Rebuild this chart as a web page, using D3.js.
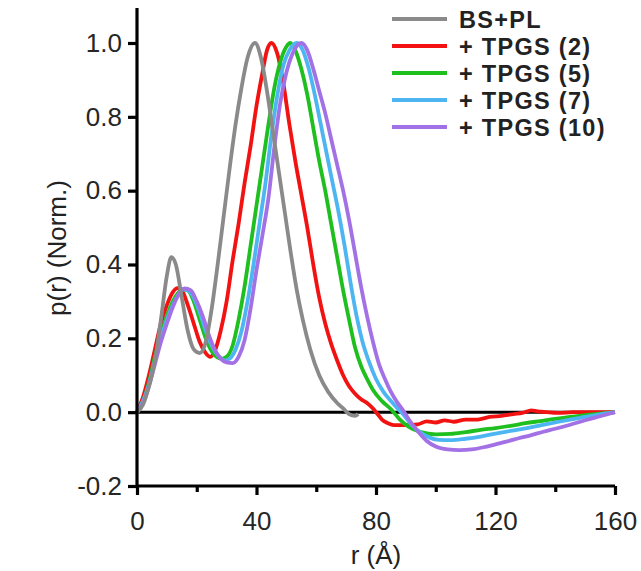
<!DOCTYPE html>
<html>
<head>
<meta charset="utf-8">
<script src="https://cdn.jsdelivr.net/npm/d3@7"></script>
<style>
  body { margin: 0; background: #fff; }
  svg text { font-family: "Liberation Sans", Arial, sans-serif; fill: #222; }
</style>
</head>
<body>
<div id="chart"></div>
<script>
// p(r) curves, [r (Å), p(r) normalised]
var bspl = [[0,0],[2,0.02],[4,0.07],[6,0.14],[8,0.25],[10,0.37],[11.5,0.42],[13,0.40],[15,0.31],[17,0.22],[19,0.17],[21,0.16],[23,0.19],[25,0.28],[27,0.40],[29,0.53],[31,0.66],[33,0.78],[35,0.88],[37,0.96],[39.5,1.0],[41.5,0.96],[43.5,0.87],[45.5,0.76],[47.5,0.65],[49.5,0.54],[51.5,0.43],[53.5,0.33],[55.5,0.25],[58,0.17],[61,0.10],[64,0.055],[67,0.025],[69,0.01],[71,-0.005],[73,-0.01],[74,-0.005]];

var tpgs2 = [[0,0],[2,0.04],[4,0.10],[6,0.17],[8,0.24],[10,0.29],[12,0.325],[13.5,0.336],[15,0.33],[17,0.29],[19,0.24],[21,0.19],[23,0.16],[24.5,0.15],[26,0.165],[28,0.22],[30,0.30],[32,0.41],[34,0.51],[36,0.62],[38,0.72],[40,0.83],[42,0.92],[43.5,0.98],[45,1.0],[47,0.97],[49,0.89],[51,0.78],[53,0.68],[55,0.59],[57,0.50],[59,0.40],[61,0.31],[63,0.24],[65,0.185],[67,0.14],[69,0.10],[71,0.07],[73,0.05],[75,0.035],[77,0.025],[79,0.01],[80.5,-0.005],[82,-0.02],[84,-0.03],[86,-0.035],[90,-0.035],[94,-0.033],[97,-0.025],[100,-0.028],[103,-0.022],[106,-0.026],[110,-0.02],[114,-0.02],[118,-0.013],[122,-0.01],[126,-0.005],[129,-0.002],[132,0.005],[134,0.002],[137,0.0],[141,-0.002],[146,0.0],[150,0.0],[155,0.0],[160,0.0]];

var tpgs5 = [[0,0],[2,0.03],[4,0.08],[6,0.15],[8,0.21],[10,0.26],[12,0.30],[14,0.325],[15.5,0.333],[17,0.33],[19,0.30],[21,0.25],[23,0.20],[25,0.165],[27,0.148],[28.5,0.145],[30,0.15],[32,0.18],[34,0.25],[36,0.34],[38,0.45],[40,0.56],[42,0.67],[44,0.78],[46,0.88],[48,0.95],[50,0.99],[51.3,1.0],[53,0.98],[55,0.93],[57,0.86],[59,0.77],[61,0.68],[63,0.60],[65,0.51],[67,0.42],[69,0.33],[71,0.25],[73,0.175],[75,0.125],[77,0.09],[79,0.06],[82,0.03],[85,0.008],[88,-0.02],[91,-0.04],[95,-0.054],[100,-0.06],[105,-0.059],[110,-0.054],[115,-0.048],[120,-0.043],[125,-0.037],[130,-0.03],[135,-0.024],[140,-0.018],[145,-0.013],[150,-0.008],[155,-0.004],[160,0]];

var tpgs7 = [[0,0],[2,0.03],[4,0.075],[6,0.14],[8,0.20],[10,0.25],[12,0.29],[14,0.32],[15.5,0.333],[17,0.33],[19,0.31],[21,0.27],[23,0.22],[25,0.18],[27,0.155],[29.5,0.14],[31,0.145],[33,0.17],[35,0.22],[37,0.30],[39,0.40],[41,0.51],[43,0.62],[45,0.75],[47,0.86],[49,0.94],[51,0.98],[53.5,1.0],[55.5,0.98],[57.5,0.93],[59.5,0.86],[61.5,0.78],[63.5,0.70],[65.5,0.62],[67.5,0.54],[69.5,0.45],[71.5,0.35],[73.5,0.26],[75.5,0.19],[77.5,0.14],[80,0.09],[82.5,0.055],[85,0.03],[87,0.012],[89,-0.005],[92,-0.035],[95,-0.056],[98,-0.069],[101,-0.075],[105,-0.076],[110,-0.072],[115,-0.066],[120,-0.058],[125,-0.051],[130,-0.044],[135,-0.036],[140,-0.028],[145,-0.02],[150,-0.013],[155,-0.006],[160,0]];

var tpgs10 = [[0,0],[2,0.025],[4,0.07],[6,0.13],[8,0.19],[10,0.24],[12,0.285],[14,0.32],[16,0.335],[18,0.33],[20,0.30],[22,0.26],[24,0.21],[26,0.17],[28,0.145],[30,0.135],[32,0.133],[34,0.15],[36,0.195],[38,0.28],[40,0.385],[42,0.48],[44,0.58],[46,0.72],[48,0.84],[50,0.92],[52,0.97],[55,1.0],[57,0.98],[59,0.93],[61,0.87],[63,0.81],[65,0.74],[67,0.67],[69,0.60],[71,0.52],[73,0.43],[75,0.34],[77,0.26],[79,0.19],[81,0.13],[83,0.09],[85,0.055],[87,0.028],[89,0.006],[91,-0.02],[94,-0.052],[97,-0.078],[100,-0.093],[104,-0.101],[108,-0.103],[112,-0.101],[116,-0.095],[120,-0.087],[124,-0.079],[128,-0.07],[132,-0.062],[136,-0.053],[140,-0.045],[145,-0.034],[150,-0.022],[155,-0.011],[160,0]];

var names = ["BS+PL", "+ TPGS (2)", "+ TPGS (5)", "+ TPGS (7)", "+ TPGS (10)"];
var colors = ["#8a8a8a", "#f21212", "#1fbf1f", "#4db6f2", "#a371e6"];
var xTicks = [0, 40, 80, 120, 160];
var xMinor = [20, 60, 100, 140];
var yTicks = [-0.2, 0, 0.2, 0.4, 0.6, 0.8, 1.0];

var W = 641, H = 571;
var svg = d3.select("#chart").append("svg").attr("width", W).attr("height", H);

var x = d3.scaleLinear().domain([0, 160]).range([137, 615]);
var y = d3.scaleLinear().domain([-0.2, 1.0]).range([486, 43]);

var line = d3.line()
    .x(function(d){ return x(d[0]); })
    .y(function(d){ return y(d[1]); })
    .curve(d3.curveMonotoneX);

// zero line
svg.append("line")
    .attr("x1", x(0)).attr("x2", x(160))
    .attr("y1", y(0)).attr("y2", y(0))
    .attr("stroke", "#000").attr("stroke-width", 3);

// draw red..purple first, grey on top
var series = [bspl, tpgs2, tpgs5, tpgs7, tpgs10];
[1, 2, 3, 4, 0].forEach(function(i){
  svg.append("path")
      .datum(series[i])
      .attr("d", line)
      .attr("fill", "none")
      .attr("stroke", colors[i])
      .attr("stroke-width", 3.8)
      .attr("stroke-linejoin", "round");
});

// axes
var xAxis = svg.append("g").attr("transform", "translate(0," + y(-0.2) + ")")
    .call(d3.axisBottom(x).tickValues(xTicks).tickSize(9).tickPadding(17).tickFormat(d3.format("d")));
svg.append("g").attr("transform", "translate(0," + y(-0.2) + ")")
    .call(d3.axisBottom(x).tickValues(xMinor).tickSize(6).tickFormat(""))
    .select(".domain").remove();

// plain hyphen for the negative label, like the original
var yFmt = function(d){ return d3.format(".1f")(d).replace("\u2212", "-"); };
var yAxis = svg.append("g").attr("transform", "translate(" + x(0) + ",0)")
    .call(d3.axisLeft(y).tickValues(yTicks).tickSize(9).tickPadding(6).tickFormat(yFmt));
// y axis runs a bit past 1.0
yAxis.select(".domain").attr("d", "M0," + y(-0.2) + "V8");
xAxis.select(".domain").attr("d", "M" + x(0) + ",0H" + x(160));

svg.selectAll(".domain").attr("stroke", "#000").attr("stroke-width", 3.2);
svg.selectAll(".tick line").attr("stroke", "#000").attr("stroke-width", 3.2);
svg.selectAll(".tick text").attr("font-size", 26).style("fill", "#262626")
    .attr("font-family", "Liberation Sans, Arial, sans-serif");

// axis titles
svg.append("text")
    .attr("x", 376).attr("y", 564)
    .attr("text-anchor", "middle").attr("font-size", 26)
    .text("r (Å)");
svg.append("text")
    .attr("transform", "translate(66,248) rotate(-90)")
    .attr("text-anchor", "middle").attr("font-size", 26)
    .text("p(r) (Norm.)");

// legend (tight rows, text a touch spaced out to keep the width)
var leg = svg.append("g").attr("transform", "translate(392,19)");
names.forEach(function(n, i){
  var g = leg.append("g").attr("transform", "translate(0," + (i * 27) + ")");
  g.append("line").attr("x1", 0).attr("x2", 55).attr("y1", 0).attr("y2", 0)
      .attr("stroke", colors[i]).attr("stroke-width", 3.8);
  g.append("text").attr("x", 67).attr("y", 8.5)
      .attr("font-size", 23.5).attr("font-weight", "bold")
      .attr("letter-spacing", 1.3)
      .text(n);
});
</script>
</body>
</html>
